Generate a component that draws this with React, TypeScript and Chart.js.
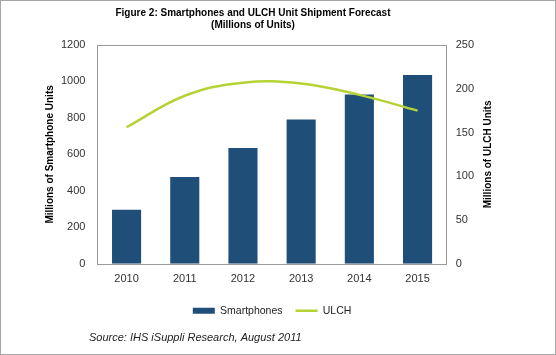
import React, { useEffect, useRef } from "react";
import { Chart, registerables } from "chart.js";

Chart.register(...registerables);

const categories = ["2010", "2011", "2012", "2013", "2014", "2015"];
const smartphones = [297, 476, 635, 791, 929, 1035];
const ulch = [156, 192, 207, 206, 193, 175];
const titleLines = ["Figure 2: Smartphones and ULCH Unit Shipment Forecast", "(Millions of Units)"];
const leftAxisTitle = "Millions of Smartphone Units";
const rightAxisTitle = "Millions of ULCH Units";
const sourceText = "Source: IHS iSuppli Research, August 2011";

const FONT = '"Liberation Sans", Arial, Helvetica, sans-serif';
const BAR_COLOR = "#1f4e79";
const LINE_COLOR = "#b5d334";

const decorPlugin = {
  id: "decor",
  afterDatasetsDraw(chart: any) {
    const { ctx, chartArea } = chart;
    ctx.save();
    ctx.strokeStyle = "#9a9a9a";
    ctx.lineWidth = 1;
    ctx.strokeRect(
      Math.round(chartArea.left) + 0.5,
      Math.round(chartArea.top) + 0.5,
      Math.round(chartArea.right - chartArea.left),
      Math.round(chartArea.bottom - chartArea.top)
    );
    ctx.restore();
  },
  afterDraw(chart: any) {
    const { ctx, chartArea, width, height } = chart;
    ctx.save();
    ctx.strokeStyle = "#a6a6a6";
    ctx.lineWidth = 1;
    ctx.strokeRect(0.5, 0.5, width - 1, height - 1);
    // title
    ctx.fillStyle = "#000";
    ctx.font = `bold 10px ${FONT}`;
    ctx.textAlign = "center";
    ctx.textBaseline = "middle";
    titleLines.forEach((line, i) => ctx.fillText(line, 253, 13 + i * 12));
    // right axis title
    ctx.translate(488, (chartArea.top + chartArea.bottom) / 2);
    ctx.rotate(-Math.PI / 2);
    ctx.fillText(rightAxisTitle, 0, 0);
    ctx.restore();
    ctx.save();
    ctx.fillStyle = "#222";
    ctx.font = `italic 11px ${FONT}`;
    ctx.textAlign = "left";
    ctx.textBaseline = "middle";
    ctx.fillText(sourceText, 89, 338);
    ctx.restore();
  },
};

const plainTick = (v: any) => String(v);

export default function App() {
  const canvasRef = useRef<HTMLCanvasElement | null>(null);

  useEffect(() => {
    document.body.style.margin = "0";
    const canvas = canvasRef.current;
    if (!canvas) return;
    const chart = new Chart(canvas, {
      type: "bar",
      data: {
        labels: categories,
        datasets: [
          {
            type: "bar",
            label: "Smartphones",
            data: smartphones,
            backgroundColor: BAR_COLOR,
            borderWidth: 0,
            yAxisID: "y",
            order: 2,
            barPercentage: 0.5,
            categoryPercentage: 1,
            pointStyle: "rect",
          } as any,
          {
            type: "line",
            label: "ULCH",
            data: ulch,
            borderColor: LINE_COLOR,
            backgroundColor: LINE_COLOR,
            borderWidth: 2.5,
            pointRadius: 0,
            pointHoverRadius: 0,
            tension: 0.4,
            fill: false,
            yAxisID: "y1",
            order: 1,
            pointStyle: "line",
          } as any,
        ],
      },
      options: {
        responsive: false,
        animation: false,
        devicePixelRatio: 1,
        layout: { padding: { top: 45, left: 40, right: 73, bottom: 29 } },
        font: { family: FONT },
        scales: {
          x: {
            grid: { display: false, drawTicks: false },
            border: { display: false },
            ticks: { padding: 9, color: "#333", font: { size: 11, family: FONT } },
            afterFit: (scale: any) => {
              scale.height -= 2.5;
            },
          },
          y: {
            position: "left",
            min: 0,
            max: 1200,
            grid: { display: false, drawTicks: false },
            border: { display: false },
            ticks: { stepSize: 200, padding: 12, color: "#333", font: { size: 11, family: FONT }, callback: plainTick },
            title: {
              display: true,
              text: leftAxisTitle,
              color: "#000",
              font: { size: 10, weight: "bold", family: FONT },
              padding: { top: 4, bottom: 4 },
            },
            afterFit: (scale: any) => {
              scale.width -= 11;
            },
          },
          y1: {
            position: "right",
            min: 0,
            max: 250,
            grid: { display: false, drawTicks: false },
            border: { display: false },
            ticks: { stepSize: 50, padding: 9, color: "#333", font: { size: 11, family: FONT }, callback: plainTick },
          },
        },
        plugins: {
          title: { display: false },
          legend: {
            display: true,
            position: "bottom",
            fullSize: false,
            labels: {
              usePointStyle: true,
              pointStyleWidth: 22,
              boxHeight: 6,
              padding: 13,
              color: "#222",
              font: { size: 10.5, family: FONT },
              sort: (a: any, b: any) => a.datasetIndex - b.datasetIndex,
            },
          },
          tooltip: { enabled: false },
        },
      } as any,
      plugins: [decorPlugin],
    });
    return () => chart.destroy();
  }, []);

  return (
    <div style={{ position: "absolute", left: 0, top: 0, width: 556, height: 355 }}>
      <canvas ref={canvasRef} width={556} height={355} style={{ display: "block", width: 556, height: 355 }} />
    </div>
  );
}
